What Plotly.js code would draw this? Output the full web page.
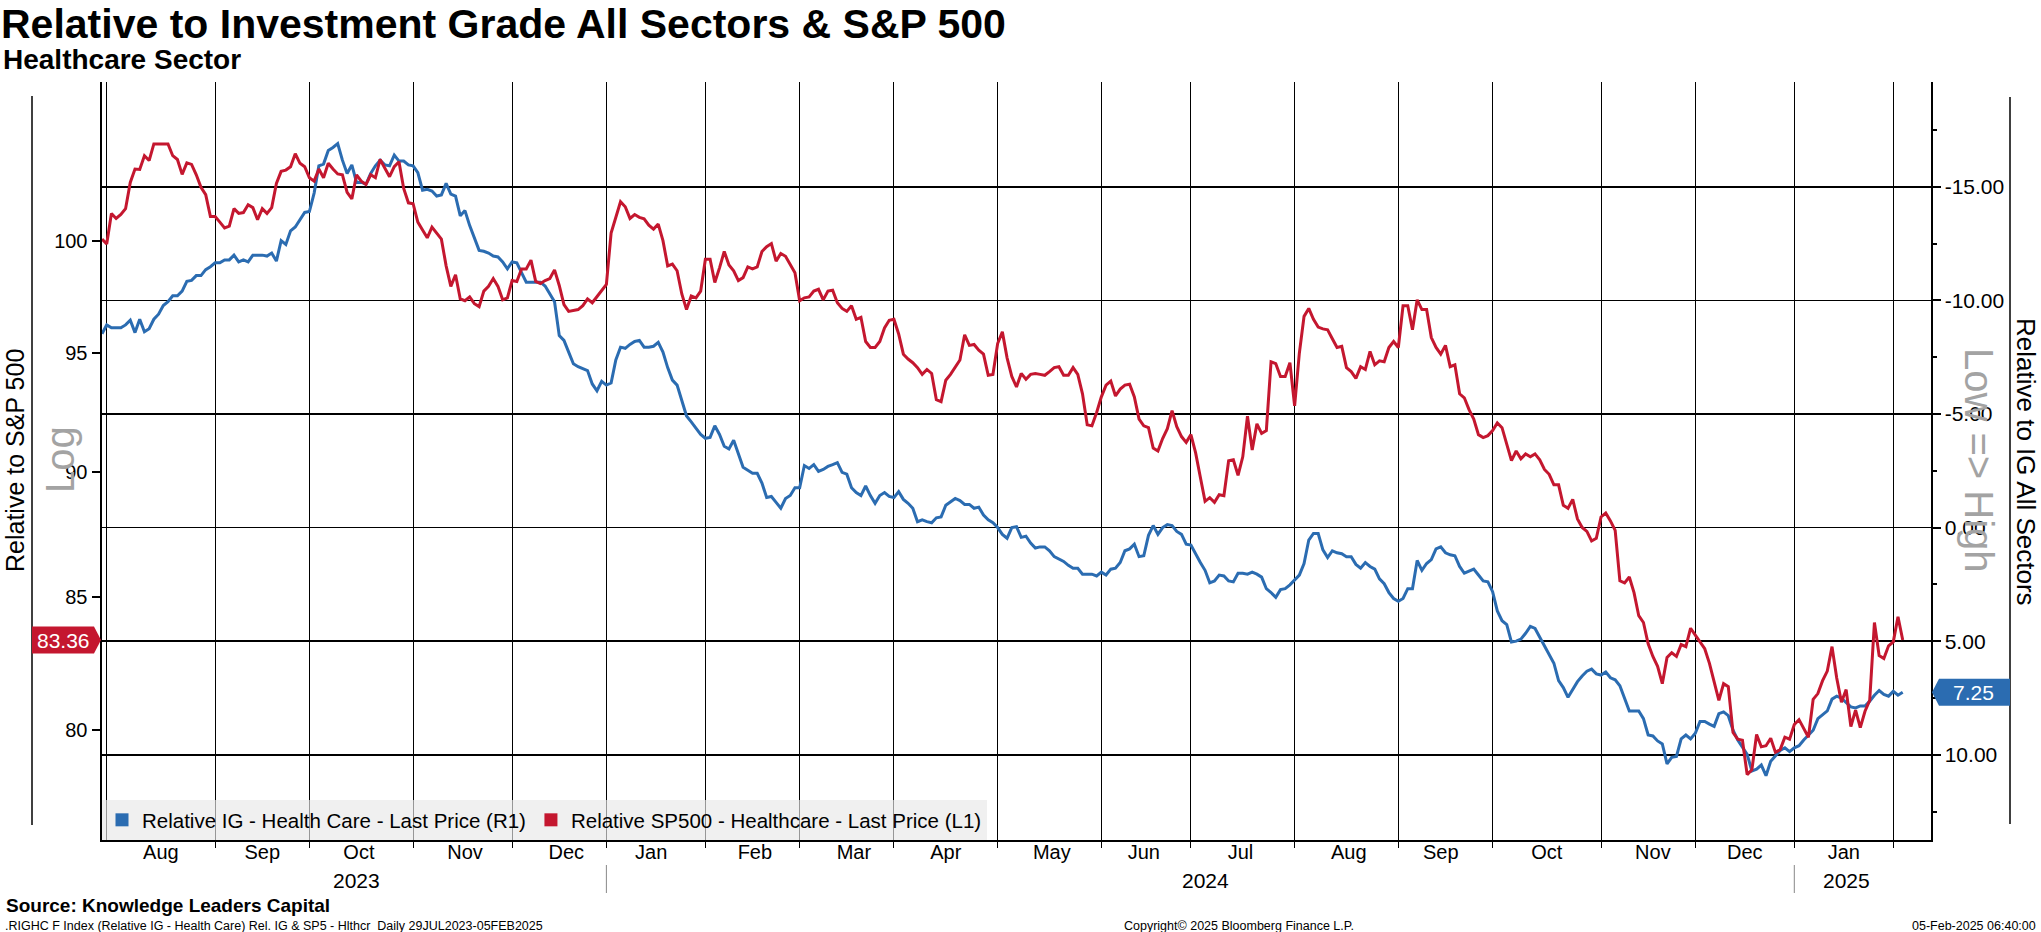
<!DOCTYPE html>
<html><head><meta charset="utf-8">
<script src="https://cdn.plot.ly/plotly-3.0.1.min.js"></script>
<style>html,body{margin:0;padding:0;background:#fff}#chart{width:2041px;height:932px}</style>
</head><body><div id="chart"></div>
<script>
// ---------- data ----------
const firstDay = '2023-07-31';
const lastDay = '2025-02-05';
const axisEnd = '2025-02-13';
const holidays = ['2023-09-04','2023-11-23','2023-12-25','2024-01-01','2024-01-15','2024-02-19','2024-03-29',
  '2024-05-27','2024-06-19','2024-07-04','2024-09-02','2024-11-28','2024-12-25','2025-01-01','2025-01-20'];

const seriesNames = ['Relative IG - Health Care - Last Price (R1)', 'Relative SP500 - Healthcare - Last Price (L1)'];

// Relative IG - Health Care (right axis, inverted), one value per trading day
const blueVals = [
-8.53,-8.92,-8.79,-8.79,-8.79,-8.92,-9.13,-8.58,-9.17,-8.62,-8.75,-9.17,-9.39,-9.77,-9.94,-10.20,-10.20,-10.41,-10.84,-10.88,
-11.09,-11.09,-11.35,-11.48,-11.65,-11.65,-11.78,-11.78,-11.99,-11.69,-11.78,-11.69,-11.99,-11.99,-11.99,-11.95,-12.08,-11.73,-12.63,-12.46,
-13.06,-13.23,-13.57,-13.87,-13.91,-14.72,-15.92,-16.00,-16.60,-16.73,-16.90,-16.17,-15.58,-15.96,-15.19,-15.20,-15.11,-15.58,-15.92,-16.17,
-15.96,-15.92,-16.39,-16.13,-16.13,-15.96,-15.92,-15.62,-14.85,-14.89,-14.81,-14.59,-14.64,-15.15,-14.68,-14.59,-13.72,-13.95,-13.29,-12.76,
-12.20,-12.16,-12.08,-11.95,-11.91,-11.69,-11.39,-11.69,-11.65,-11.22,-10.80,-10.80,-10.80,-10.80,-10.63,-10.28,-9.94,-8.45,-8.24,-7.72,
-7.21,-7.08,-7.00,-6.91,-6.32,-6.02,-6.44,-6.27,-6.36,-7.38,-7.94,-7.89,-8.06,-8.19,-8.24,-7.94,-7.94,-7.98,-8.15,-7.72,
-7.04,-6.49,-6.27,-5.63,-4.91,-4.65,-4.40,-4.10,-3.93,-3.97,-4.48,-4.10,-3.58,-3.46,-3.84,-3.24,-2.65,-2.52,-2.39,-2.39,
-1.96,-1.32,-1.37,-1.11,-0.85,-1.28,-1.41,-1.75,-1.75,-2.73,-2.60,-2.77,-2.47,-2.56,-2.69,-2.77,-2.86,-2.43,-2.35,-1.75,
-1.54,-1.41,-1.83,-1.41,-1.07,-1.41,-1.54,-1.37,-1.32,-1.58,-1.24,-1.07,-0.85,-0.26,-0.34,-0.26,-0.21,-0.43,-0.47,-0.98,
-1.15,-1.28,-1.19,-1.02,-1.02,-0.85,-0.90,-0.55,-0.34,-0.21,0.00,0.30,0.47,0.00,-0.04,0.43,0.38,0.68,0.90,0.85,
0.85,1.02,1.28,1.37,1.49,1.66,1.79,1.79,2.05,2.05,2.05,2.13,1.96,2.09,1.83,1.79,1.54,1.02,0.94,0.73,
1.28,1.24,0.34,-0.09,0.30,0.00,-0.13,-0.09,0.17,0.30,0.73,0.77,1.19,1.54,1.88,2.43,2.35,2.09,2.13,2.35,
2.39,2.01,2.01,2.05,1.96,2.05,2.18,2.69,2.86,3.07,2.73,2.69,2.52,2.30,2.09,1.58,0.55,0.26,0.26,0.98,
1.32,1.02,1.11,1.15,1.28,1.28,1.62,1.79,1.54,1.71,1.83,2.26,2.47,2.86,3.12,3.24,3.12,2.69,2.69,1.45,
1.88,1.58,1.41,0.94,0.85,1.11,1.20,1.24,1.71,2.01,1.92,1.83,2.09,2.35,2.39,2.82,3.67,4.10,4.27,5.04,
5.00,4.91,4.65,4.35,4.44,4.82,5.21,5.59,5.97,6.74,7.04,7.47,7.13,6.78,6.53,6.32,6.23,6.44,6.49,6.36,
6.61,6.70,6.96,7.51,8.07,8.07,8.07,8.41,9.13,9.17,9.39,9.52,10.40,10.11,10.07,9.30,9.13,9.30,9.05,8.53,
8.53,8.65,8.75,8.19,8.11,8.28,8.92,9.35,9.64,9.98,10.71,10.63,10.45,10.92,10.28,10.03,9.81,9.69,9.86,9.69,
9.60,9.35,9.15,8.92,8.41,8.24,8.07,7.55,7.42,7.51,7.68,7.89,7.94,7.85,7.85,7.64,7.38,7.17,7.34,7.42,
7.21,7.38,7.25];

// Relative SP500 - Healthcare (left axis, log), one value per trading day
const redVals = [
100.07,99.85,101.25,101.02,101.20,101.47,102.69,103.32,103.30,103.95,103.72,104.51,104.51,104.51,104.51,103.95,103.77,103.07,103.61,103.54,
103.05,102.46,102.12,101.11,101.11,100.85,100.58,100.67,101.47,101.25,101.29,101.65,101.52,100.96,101.47,101.25,101.52,102.64,103.21,103.27,
103.43,104.04,103.59,103.43,102.91,102.75,103.32,102.91,103.59,103.32,103.09,103.05,102.23,101.92,103.05,102.75,102.59,103.05,102.91,103.77,
103.36,102.96,103.43,103.66,102.41,101.74,101.70,100.85,100.49,100.13,100.62,100.33,100.07,98.86,97.94,98.46,97.38,97.30,97.47,97.17,
97.04,97.73,97.94,98.29,97.94,97.34,97.43,98.20,98.16,98.72,98.72,99.12,98.16,98.07,98.20,98.29,98.68,97.98,97.13,96.83,
96.87,96.91,97.08,97.38,97.21,97.47,97.73,98.03,100.35,101.02,101.79,101.56,101.02,101.20,101.07,101.00,100.71,100.53,100.76,100.00,
98.86,98.94,98.64,97.60,96.91,97.51,97.43,97.73,99.16,99.16,98.11,98.77,99.51,98.90,98.64,98.20,98.33,98.81,98.72,98.81,
99.51,99.73,99.87,99.07,99.42,99.29,98.94,98.55,97.30,97.43,97.47,97.73,97.81,97.34,97.73,97.77,97.21,96.96,96.83,97.08,
96.48,96.57,95.51,95.25,95.25,95.51,96.10,96.44,96.48,95.84,94.96,94.75,94.59,94.38,94.09,94.30,94.13,93.01,92.93,93.84,
94.09,94.38,94.71,95.80,95.34,95.38,95.13,94.96,94.05,94.09,95.42,95.93,94.80,94.00,93.55,94.13,93.88,94.09,94.13,94.09,
94.05,94.21,94.38,94.42,94.05,94.05,94.38,94.09,93.26,91.95,91.91,92.47,93.13,93.63,93.80,93.17,93.46,93.63,93.67,93.13,
92.19,91.91,91.83,90.98,90.86,91.38,91.79,92.55,91.87,91.46,91.22,91.54,90.78,89.78,88.80,88.95,88.76,89.07,89.03,90.46,
90.50,89.86,90.62,92.31,90.90,91.99,91.59,91.71,94.63,94.55,94.00,94.00,94.59,92.75,95.00,96.61,96.96,96.48,96.14,96.06,
96.02,95.63,95.25,95.30,94.38,94.21,93.92,94.42,94.30,95.08,94.50,94.67,94.63,95.25,95.51,95.25,97.08,97.08,96.02,97.34,
96.91,96.91,95.68,95.25,94.96,95.34,94.42,94.50,93.26,93.09,92.59,92.19,91.54,91.42,91.50,91.71,92.03,91.83,91.18,90.46,
90.86,90.54,90.74,90.62,90.74,90.50,90.10,89.90,89.47,89.47,88.64,88.52,88.88,88.09,87.75,87.59,87.21,87.32,88.17,88.33,
88.01,87.63,85.64,85.56,85.79,85.18,84.29,84.03,83.22,82.74,82.37,81.72,82.70,82.88,82.74,83.19,83.11,83.81,83.55,83.29,
83.03,82.48,81.75,81.10,81.72,81.61,79.92,79.68,79.64,78.40,78.57,79.85,79.40,79.44,79.71,79.20,79.30,79.75,79.68,80.21,
80.39,80.07,79.75,81.14,81.35,81.83,82.19,83.11,81.93,81.03,81.50,80.14,80.74,80.10,80.70,81.10,84.03,82.77,82.66,83.14,
83.29,84.25,83.36];

const leftTickVals = [80, 85, 90, 95, 100];
const leftTickText = ['80', '85', '90', '95', '100'];
const rightTickVals = [-15, -10, -5, 0, 5, 10];
const rightTickText = ['-15.00', '-10.00', '-5.00', '0.00', '5.00', '10.00'];
const yearLabels = ['2023', '2024', '2025'];
const yearLabelDates = ['2023-10-16', '2024-07-05', '2025-01-17'];
const yearStarts = ['2024-01-01', '2025-01-01'];

// ---------- calendar ----------
function tradingDays(start, end, hol) {
  const out = [], hs = new Set(hol);
  let d = new Date(start + 'T00:00:00Z');
  const e = new Date(end + 'T00:00:00Z');
  while (d <= e) {
    const w = d.getUTCDay(), s = d.toISOString().slice(0, 10);
    if (w !== 0 && w !== 6 && !hs.has(s)) out.push(s);
    d = new Date(d.getTime() + 86400000);
  }
  return out;
}
const dates = tradingDays(firstDay, lastDay, holidays);

// ---------- layout geometry ----------
const FIG_W = 2041, FIG_H = 932;
const L = 102, R = 1931, T = 82, B = 840;
const W = R - L, H = B - T;
const px = x => (x - L) / W;
const py = y => (B - y) / H;

const RED = '#c4172f', BLUE = '#2b6cb1';
const FONT = 'Liberation Sans, Arial, sans-serif';
const lastRed = redVals[redVals.length - 1];
const lastBlue = blueVals[blueVals.length - 1];

const traces = [
  { x: dates, y: blueVals, yaxis: 'y', type: 'scatter', mode: 'lines', line: { color: BLUE, width: 3 }, showlegend: false, hoverinfo: 'skip' },
  { x: dates, y: redVals, yaxis: 'y2', type: 'scatter', mode: 'lines', line: { color: RED, width: 3 }, showlegend: false, hoverinfo: 'skip' },
  { x: [null], y: [null], yaxis: 'y', type: 'scatter', mode: 'markers', name: seriesNames[0], marker: { symbol: 'square', size: 13, color: BLUE } },
  { x: [null], y: [null], yaxis: 'y2', type: 'scatter', mode: 'markers', name: seriesNames[1], marker: { symbol: 'square', size: 13, color: RED } }
];

const gray = '#a3a3a3';
const C = { xanchor: 'center', yanchor: 'middle', showarrow: false };
const annotations = [
  { text: '<b>Healthcare Sector</b>', xref: 'paper', yref: 'paper', x: px(1), y: py(60), xanchor: 'left', yanchor: 'middle', showarrow: false, font: { size: 28, color: '#000' } },
  Object.assign({ text: 'Relative to S&P 500', xref: 'paper', yref: 'paper', x: px(15), y: py(461), textangle: -90, font: { size: 25, color: '#000' } }, C),
  Object.assign({ text: 'Log', xref: 'paper', yref: 'paper', x: px(60), y: py(460), textangle: -90, font: { size: 40, color: gray } }, C),
  Object.assign({ text: 'Relative to IG All Sectors', xref: 'paper', yref: 'paper', x: px(2026), y: py(462), textangle: 90, font: { size: 26, color: '#000' } }, C),
  Object.assign({ text: 'Low =&gt; High', xref: 'paper', yref: 'paper', x: px(1979), y: py(461), textangle: 90, font: { size: 40, color: gray } }, C),
  { text: '<b>Source: Knowledge Leaders Capital</b>', xref: 'paper', yref: 'paper', x: px(4), y: py(905), xanchor: 'left', yanchor: 'middle', showarrow: false, font: { size: 19, color: '#000' } },
  { text: '.RIGHC F Index (Relative IG - Health Care) Rel. IG &amp; SP5 - Hlthcr&nbsp; Daily 29JUL2023-05FEB2025', xref: 'paper', yref: 'paper', x: px(3), y: py(926), xanchor: 'left', yanchor: 'middle', showarrow: false, font: { size: 12.5, color: '#000' } },
  Object.assign({ text: 'Copyright\u00a9 2025 Bloomberg Finance L.P.', xref: 'paper', yref: 'paper', x: px(1239), y: py(926), font: { size: 12.5, color: '#000' } }, C),
  { text: '05-Feb-2025 06:40:00', xref: 'paper', yref: 'paper', x: px(2038), y: py(926), xanchor: 'right', yanchor: 'middle', showarrow: false, font: { size: 12.5, color: '#000' } },
  Object.assign({ text: lastRed.toFixed(2), xref: 'paper', yref: 'y2', x: px(63), y: Math.log10(lastRed), font: { size: 21, color: '#fff' } }, C),
  Object.assign({ text: lastBlue.toFixed(2), xref: 'paper', yref: 'y', x: px(1973), y: lastBlue, font: { size: 21, color: '#fff' } }, C)
];
yearLabels.forEach((t, i) => annotations.push(Object.assign({ text: t, xref: 'x', yref: 'paper', x: yearLabelDates[i], y: py(880), font: { size: 21, color: '#000' } }, C)));

const shapes = [
  { type: 'line', xref: 'paper', yref: 'paper', x0: px(32), x1: px(32), y0: py(96), y1: py(825), line: { color: '#000', width: 1.5 } },
  { type: 'line', xref: 'paper', yref: 'paper', x0: px(2010), x1: px(2010), y0: py(97), y1: py(824), line: { color: '#000', width: 1.5 } },
  { type: 'path', xref: 'paper', yref: 'y2', xsizemode: 'pixel', xanchor: 0, ysizemode: 'pixel', yanchor: lastRed,
    path: 'M-70,-13.5 L-8,-13.5 L-1,0 L-8,13.5 L-70,13.5 Z', fillcolor: RED, line: { width: 0 } },
  { type: 'path', xref: 'paper', yref: 'y', xsizemode: 'pixel', xanchor: 1, ysizemode: 'pixel', yanchor: lastBlue,
    path: 'M1,0 L8,-13.5 L79,-13.5 L79,13.5 L8,13.5 Z', fillcolor: BLUE, line: { width: 0 } }
];
yearStarts.forEach(d => shapes.push({ type: 'line', xref: 'x', yref: 'paper', x0: d, x1: d, y0: py(865), y1: py(893), line: { color: '#888', width: 1 } }));

const layout = {
  width: FIG_W, height: FIG_H,
  margin: { l: L, r: FIG_W - R, t: T, b: FIG_H - B, pad: 0 },
  paper_bgcolor: '#fff', plot_bgcolor: '#fff',
  font: { family: FONT, color: '#000', size: 20 },
  title: { text: '<b>Relative to Investment Grade All Sectors & S&P 500</b>', xref: 'container', yref: 'container', x: 0.0005, xanchor: 'left', y: 1 - 24 / FIG_H, yanchor: 'middle', font: { size: 41, color: '#000' } },
  showlegend: true,
  legend: { x: 0, y: 0, xanchor: 'left', yanchor: 'bottom', orientation: 'h', bgcolor: 'rgba(232,232,232,0.65)', borderwidth: 0, font: { size: 20.5 }, itemwidth: 30, traceorder: 'normal' },
  hovermode: false,
  xaxis: {
    type: 'date', range: [firstDay, axisEnd],
    rangebreaks: [{ bounds: ['sat', 'mon'] }, { values: holidays }],
    tickmode: 'linear', tick0: '2023-01-01', dtick: 'M1', tickformat: '%b', ticklabelmode: 'period',
    showgrid: true, gridcolor: '#000', gridwidth: 1,
    ticks: 'outside', ticklen: 6, tickcolor: '#000', tickwidth: 1, ticklabelstandoff: -13,
    showline: true, linecolor: '#000', linewidth: 2, zeroline: false,
    tickfont: { size: 20 }
  },
  yaxis: {
    side: 'right', range: [13.75, -19.61], tickmode: 'array', tickvals: rightTickVals, ticktext: rightTickText,
    showgrid: true, gridcolor: '#000', gridwidth: 1.5, zeroline: false,
    ticks: 'outside', ticklen: 8, tickwidth: 2, tickcolor: '#000',
    minor: { tickmode: 'linear', tick0: 0, dtick: 2.5, ticks: 'outside', ticklen: 4, tickcolor: '#000', showgrid: false },
    showline: true, linecolor: '#000', linewidth: 1.5, tickfont: { size: 21 }
  },
  yaxis2: {
    type: 'log', overlaying: 'y', side: 'left', range: [Math.log10(76.1), Math.log10(107.5)],
    tickmode: 'array', tickvals: leftTickVals, ticktext: leftTickText,
    showgrid: false, zeroline: false,
    ticks: 'outside', ticklen: 8, tickwidth: 2, tickcolor: '#000',
    showline: true, linecolor: '#000', linewidth: 2.5, tickfont: { size: 20 }
  },
  annotations: annotations,
  shapes: shapes
};

Plotly.newPlot('chart', traces, layout, { displayModeBar: false, staticPlot: true });
</script>
</body></html>
